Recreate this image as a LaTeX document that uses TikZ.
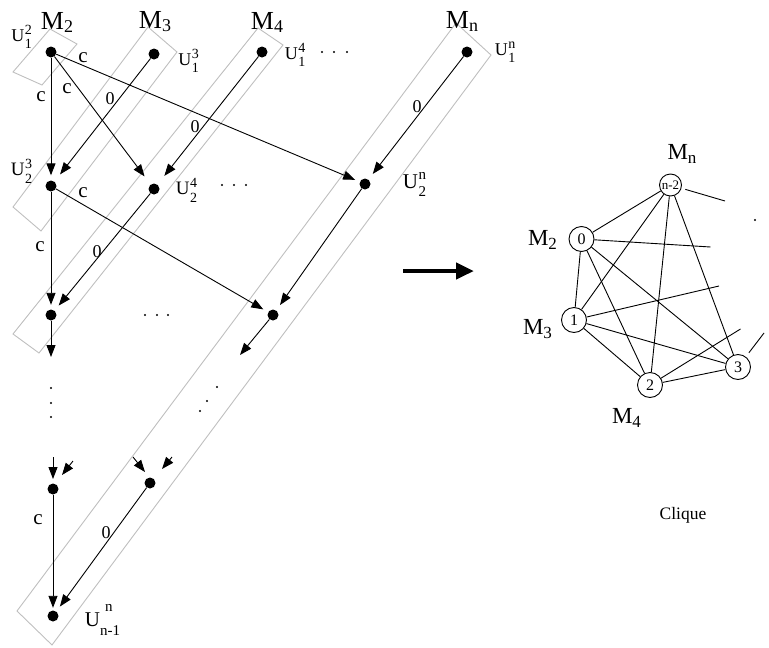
\documentclass[tikz,border=0pt]{standalone}
\usepackage{fontspec}
\setmainfont{Liberation Serif}
\usetikzlibrary{arrows.meta}
% U with stacked scripts: #1 U size, #2 script size, #3 sup, #4 sub, #5 raise, #6 lower
\newcommand\Uss[6]{{\fontsize{#1}{#1}\selectfont U}\kern0.5pt\rlap{\raisebox{#5}{\fontsize{#2}{#2}\selectfont #3}}\raisebox{-#6}{\fontsize{#2}{#2}\selectfont #4}}
% M with subscript: #1 M size, #2 sub size, #3 sub, #4 lower
\newcommand\Msb[4]{{\fontsize{#1}{#1}\selectfont M}\raisebox{-#4}{\fontsize{#2}{#2}\selectfont #3}}
\begin{document}
\begin{tikzpicture}[x=1pt,y=-1pt,
  dot/.style={circle,fill=black,inner sep=0pt,minimum size=11pt},
  tinydot/.style={circle,fill=black,inner sep=0pt,minimum size=2.4pt},
  arr/.style={-{Triangle[length=12pt,width=9pt]},line width=0.9pt},
  box/.style={draw=black!25,line width=0.9pt},
  elab/.style={font=\fontsize{18}{20}\selectfont,inner sep=0pt},
  clab/.style={font=\fontsize{21}{22}\selectfont,inner sep=0pt},
  tlab/.style={inner sep=0pt},
  cnode/.style={circle,draw,line width=0.9pt,minimum size=25pt,inner sep=0pt,font=\fontsize{16}{17}\selectfont},
  kedge/.style={line width=0.9pt},
]
\useasboundingbox (0,0) rectangle (769,648);
% boxes
\draw[box] (50,29) -- (77,44) -- (42,85) -- (13,72) -- cycle;
\draw[box] (148,27) -- (177,52) -- (41,231) -- (13,207) -- cycle;
\draw[box] (258,28) -- (283,45) -- (39,353) -- (13,334) -- cycle;
\draw[box] (456,23) -- (491,55) -- (52,645) -- (17,611) -- cycle;
% dots
\node[dot] (u12) at (51,52) {};
\node[dot] (u13) at (154,54) {};
\node[dot] (u14) at (262,52) {};
\node[dot] (u1n) at (467,52) {};
\node[dot] (u23) at (51,186) {};
\node[dot] (u24) at (154,189) {};
\node[dot] (u2n) at (365,184) {};
\node[dot] (r3l) at (51,315) {};
\node[dot] (r3r) at (273,315) {};
\node[dot] (r4l) at (53,489) {};
\node[dot] (r4m) at (150,483) {};
\node[dot] (bot) at (53,616) {};
% edges
\draw[arr,shorten >=5pt] (u12) -- (u23);
\draw[arr,shorten >=9pt] (u13) -- (u23);
\draw[arr,shorten >=10pt] (u12) -- (u24);
\draw[arr,shorten >=5pt] (u12) -- (u2n);
\draw[arr,shorten >=11pt] (u14) -- (u24);
\draw[arr,shorten >=7pt] (u1n) -- (u2n);
\draw[arr,shorten >=4.5pt] (u23) -- (r3l);
\draw[arr,shorten >=6.5pt] (u24) -- (r3l);
\draw[arr,shorten >=5.5pt] (u23) -- (r3r);
\draw[arr,shorten >=6.5pt] (u2n) -- (r3r);
\draw[arr,shorten >=2.5pt] (r4l) -- (bot);
\draw[arr,shorten >=6pt] (r4m) -- (bot);
% stubs
\coordinate (s1) at (51,357);
\coordinate (s2) at (240,355);
\draw[arr] (r3l) -- (s1);
\draw[arr] (r3r) -- (s2);
\coordinate (a1) at (53,457); \coordinate (b1) at (53,479);
\coordinate (a2) at (73,461); \coordinate (b2) at (62,475);
\coordinate (a3) at (133,457); \coordinate (b3) at (145,472);
\coordinate (a4) at (172,457); \coordinate (b4) at (162,469);
\draw[arr] (a1) -- (b1);
\draw[arr] (a2) -- (b2);
\draw[arr] (a3) -- (b3);
\draw[arr] (a4) -- (b4);
% edge labels
\node[clab] (l1) at (41,97) {c};
\node[clab] (l2) at (67,89) {c};
\node[clab] (l3) at (83,58) {c};
\node[elab] (l4) at (110,99) {0};
\node[elab] (l5) at (195,127) {0};
\node[elab] (l6) at (417,107) {0};
\node[clab] (l7) at (40,247) {c};
\node[clab] (l8) at (83,193) {c};
\node[elab] (l9) at (97,252) {0};
\node[clab] (l10) at (38,520) {c};
\node[elab] (l11) at (106,533) {0};
% M labels
\node[tlab] (m2) at (57,22) {\Msb{26}{18}{2}{3pt}};
\node[tlab] (m3) at (155,22) {\Msb{26}{18}{3}{3pt}};
\node[tlab] (m4) at (267,22) {\Msb{26}{18}{4}{3pt}};
\node[tlab] (mn) at (462,21) {\Msb{26}{18}{n}{3pt}};
% U labels
\node[tlab] (t12) at (21.5,36.5) {\Uss{18}{14}{2}{1}{7pt}{7pt}};
\node[tlab] (t13) at (188.5,61) {\Uss{18}{14}{3}{1}{7pt}{7pt}};
\node[tlab] (t14) at (295,54.5) {\Uss{18}{14}{4}{1}{7pt}{7pt}};
\node[tlab] (t1n) at (505,52.5) {\Uss{18}{14}{n}{1}{7pt}{7pt}};
\node[tlab] (t23) at (21.5,171) {\Uss{19}{14}{3}{2}{7.5pt}{7.5pt}};
\node[tlab] (t24) at (186.5,190) {\Uss{19}{14}{4}{2}{7.5pt}{7.5pt}};
\node[tlab] (t2n) at (414.5,184) {\Uss{21}{15}{n}{2}{9pt}{8pt}};
\node[tlab] (tnn) at (102.5,620) {{\fontsize{21}{21}\selectfont U}\rlap{\kern5pt\raisebox{15pt}{\fontsize{15}{15}\selectfont n}}\raisebox{-9pt}{\fontsize{15}{15}\selectfont n-1}};
% ellipsis dots
\foreach \i/\x/\y in {1/322/52,2/334/52,3/347/52,4/222/185,5/234/185,6/246/185,7/145/315,8/157/315,9/168/315,10/51/388,11/51/403,12/51/417,13/217/387,14/207/401,15/200/411,16/755/220}
  \node[tinydot] (e\i) at (\x,\y) {};
% big arrow
\coordinate (ba) at (403,271);
\coordinate (bb) at (474,271);
\draw[line width=4.5pt,-{Triangle[length=18pt,width=16pt]}] (ba) -- (bb);
% clique
\node[cnode] (k0) at (581.5,239) {0};
\node[cnode] (k1) at (574,320) {1};
\node[cnode] (k2) at (650,385) {2};
\node[cnode] (k3) at (738,367) {3};
\node[cnode,minimum size=22pt,font=\fontsize{13}{14}\selectfont] (kn) at (670.5,185) {n-2};
\coordinate (dn) at (725,201);
\coordinate (d0) at (710.5,247);
\coordinate (d1) at (719,286);
\coordinate (d2) at (740.5,329);
\coordinate (d3) at (764,333);
\draw[kedge] (kn) -- (k0);
\draw[kedge] (kn) -- (k1);
\draw[kedge] (kn) -- (k2);
\draw[kedge] (kn) -- (k3);
\draw[kedge,shorten <=4pt] (kn) -- (dn);
\draw[kedge] (k0) -- (k1);
\draw[kedge] (k0) -- (k2);
\draw[kedge] (k0) -- (k3);
\draw[kedge] (k0) -- (d0);
\draw[kedge] (k1) -- (k2);
\draw[kedge] (k1) -- (k3);
\draw[kedge] (k1) -- (d1);
\draw[kedge] (k2) -- (k3);
\draw[kedge] (k2) -- (d2);
\draw[kedge,shorten <=5pt] (k3) -- (d3);
\node[tlab] (km2) at (542.5,240) {\Msb{23}{17}{2}{4pt}};
\node[tlab] (km3) at (537.5,329) {\Msb{23}{17}{3}{4pt}};
\node[tlab] (km4) at (626.5,417.5) {\Msb{23}{17}{4}{4pt}};
\node[tlab] (kmn) at (682,153.5) {\Msb{23}{17}{n}{4pt}};
\node[font=\fontsize{17.5}{19}\selectfont,inner sep=0pt] (clq) at (683,515) {Clique};
\end{tikzpicture}
\end{document}
